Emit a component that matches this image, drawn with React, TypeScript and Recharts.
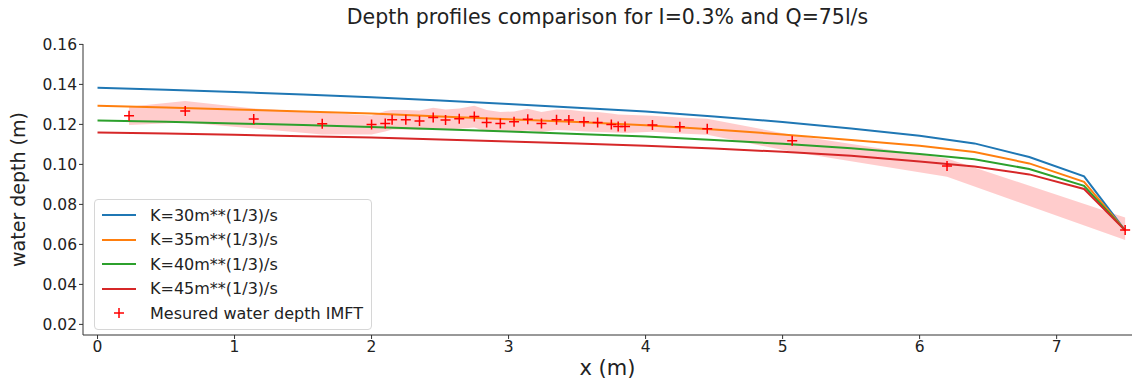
import { ComposedChart, Line, Area, Scatter, XAxis, YAxis, Legend, Label } from 'recharts';

// simulated profiles share one x grid
const profileX = [0, 0.5, 1, 1.5, 2, 2.5, 3, 3.5, 4, 4.5, 5, 5.5, 6, 6.4, 6.8, 7.2, 7.5];
const depthK30 = [0.1383, 0.1373, 0.1362, 0.135, 0.1336, 0.132, 0.1302, 0.1283, 0.1265, 0.124, 0.1212, 0.118, 0.1143, 0.1105, 0.1037, 0.094, 0.067];
const depthK35 = [0.1293, 0.1285, 0.1275, 0.1265, 0.1254, 0.124, 0.1226, 0.1212, 0.1196, 0.1175, 0.115, 0.1122, 0.1093, 0.1062, 0.1005, 0.0913, 0.067];
const depthK40 = [0.122, 0.1213, 0.1205, 0.1197, 0.1187, 0.1176, 0.1164, 0.1152, 0.1139, 0.1122, 0.1103, 0.1081, 0.1052, 0.1026, 0.0977, 0.0893, 0.067];
const depthK45 = [0.116, 0.1154, 0.1148, 0.1141, 0.1134, 0.1125, 0.1115, 0.1105, 0.1093, 0.1079, 0.1063, 0.1043, 0.1014, 0.099, 0.095, 0.0877, 0.067];

// IMFT measurements with their spread
const measuredX = [0.23, 0.64, 1.14, 1.64, 2.0, 2.1, 2.15, 2.25, 2.35, 2.45, 2.54, 2.64, 2.75, 2.84, 2.94, 3.04, 3.14, 3.24, 3.35, 3.44, 3.55, 3.65, 3.75, 3.8, 3.85, 4.05, 4.25, 4.45, 5.07, 6.2, 7.5];
const measuredDepth = [0.1243, 0.1267, 0.1227, 0.1203, 0.12, 0.1205, 0.1223, 0.1223, 0.1217, 0.1235, 0.1222, 0.1228, 0.124, 0.121, 0.1205, 0.1213, 0.1226, 0.1205, 0.1223, 0.1222, 0.1213, 0.121, 0.12, 0.119, 0.119, 0.1197, 0.1188, 0.1178, 0.1118, 0.0992, 0.0672];
const bandHigh = [0.1288, 0.1317, 0.128, 0.126, 0.1245, 0.1267, 0.1272, 0.1272, 0.127, 0.1283, 0.1275, 0.128, 0.1293, 0.1272, 0.1262, 0.1265, 0.1278, 0.1262, 0.1275, 0.1273, 0.1265, 0.1262, 0.1255, 0.125, 0.1248, 0.1243, 0.1235, 0.1228, 0.1147, 0.103, 0.0735];
const bandLow = [0.1197, 0.121, 0.118, 0.115, 0.115, 0.1165, 0.1175, 0.1175, 0.1172, 0.118, 0.1175, 0.1178, 0.1185, 0.1165, 0.1162, 0.1165, 0.117, 0.1162, 0.1172, 0.117, 0.1165, 0.1162, 0.116, 0.1158, 0.1157, 0.1163, 0.1155, 0.1148, 0.1063, 0.0938, 0.0622];

const xTicks = [0, 1, 2, 3, 4, 5, 6, 7];
const yTicks = [0.02, 0.04, 0.06, 0.08, 0.1, 0.12, 0.14, 0.16];

const series = [
  { key: 'k30', name: 'K=30m**(1/3)/s', color: '#1f77b4', values: depthK30 },
  { key: 'k35', name: 'K=35m**(1/3)/s', color: '#ff7f0e', values: depthK35 },
  { key: 'k40', name: 'K=40m**(1/3)/s', color: '#2ca02c', values: depthK40 },
  { key: 'k45', name: 'K=45m**(1/3)/s', color: '#d62728', values: depthK45 },
];
const measuredName = 'Mesured water depth IMFT';

const font = '"DejaVu Sans", sans-serif';

// merge everything onto one sorted x column
const rowsByX = new Map<number, any>();
const rowAt = (x: number) => {
  if (!rowsByX.has(x)) rowsByX.set(x, { x });
  return rowsByX.get(x);
};
series.forEach((s) => profileX.forEach((x, i) => { rowAt(x)[s.key] = s.values[i]; }));
measuredX.forEach((x, i) => { rowAt(x).band = [bandLow[i], bandHigh[i]]; });
const chartData = Array.from(rowsByX.values()).sort((a, b) => a.x - b.x);
const measured = measuredX.map((x, i) => ({ x, depth: measuredDepth[i] }));

const Plus = (props: any) => {
  const { cx, cy } = props;
  if (cx == null || cy == null) return null;
  return (
    <path d={`M${cx - 5},${cy}h10M${cx},${cy - 5}v10`} stroke="#ff0000" strokeWidth={1.5} fill="none" />
  );
};

const LegendBox = () => (
  <div style={{ border: '1px solid #d6d6d6', borderRadius: 4, background: 'rgba(255,255,255,0.8)', padding: '3px 8px 3px 5px', fontFamily: font, fontSize: 16, color: '#222' }}>
    {series.map((s) => (
      <div key={s.key} style={{ display: 'flex', alignItems: 'center', height: 24.5 }}>
        <svg width={40} height={10} style={{ marginRight: 10 }}>
          <line x1={2} x2={36} y1={5} y2={5} stroke={s.color} strokeWidth={2} />
        </svg>
        <span>{s.name}</span>
      </div>
    ))}
    <div style={{ display: 'flex', alignItems: 'center', height: 24.5 }}>
      <svg width={40} height={12} style={{ marginRight: 10 }}>
        <path d="M14,6h10M19,1v10" stroke="#ff0000" strokeWidth={1.5} />
      </svg>
      <span>{measuredName}</span>
    </div>
  </div>
);

export default function App() {
  return (
    <div style={{ position: 'absolute', left: 0, top: 0, width: 1132, height: 381, background: '#fff' }}>
      <div style={{ position: 'absolute', left: 83, width: 1049, top: 5, textAlign: 'center', fontFamily: font, fontSize: 20.5, color: '#222' }}>
        Depth profiles comparison for I=0.3% and Q=75l/s
      </div>
      <ComposedChart width={1132} height={381} data={chartData} margin={{ top: 44, right: 0, bottom: 0, left: 0 }}>
        <XAxis
          type="number"
          dataKey="x"
          domain={[-0.106, 7.55]}
          ticks={xTicks}
          allowDataOverflow
          height={46}
          axisLine={{ stroke: '#333' }}
          tickLine={{ stroke: '#333' }}
          tickSize={4}
          tick={{ fontSize: 15.5, fill: '#222', fontFamily: font }}
        >
          <Label value="x (m)" position="insideBottom" offset={6} style={{ fontSize: 21, fill: '#222', fontFamily: font }} />
        </XAxis>
        <XAxis xAxisId="top" type="number" dataKey="x" orientation="top" domain={[-0.106, 7.55]} allowDataOverflow height={0} tick={false} tickLine={false} axisLine={{ stroke: '#333' }} />
        <YAxis
          type="number"
          domain={[0.0147, 0.1602]}
          ticks={yTicks}
          allowDataOverflow
          width={83}
          axisLine={{ stroke: '#333' }}
          tickLine={{ stroke: '#333' }}
          tickSize={4}
          tickFormatter={(v: number) => v.toFixed(2)}
          tick={{ fontSize: 15.5, fill: '#222', fontFamily: font }}
        >
          <Label value="water depth (m)" angle={-90} position="insideLeft" offset={18} style={{ fontSize: 19, fill: '#222', fontFamily: font, textAnchor: 'middle' }} />
        </YAxis>
        <Area type="linear" dataKey="band" stroke="none" fill="#ff0000" fillOpacity={0.2} connectNulls isAnimationActive={false} legendType="none" />
        {series.map((s) => (
          <Line key={s.key} type="linear" dataKey={s.key} name={s.name} stroke={s.color} strokeWidth={2} dot={false} connectNulls isAnimationActive={false} />
        ))}
        <Scatter data={measured} dataKey="depth" name={measuredName} shape={Plus} isAnimationActive={false} />
        <Legend layout="vertical" align="center" verticalAlign="middle" wrapperStyle={{ left: 94, top: 199, width: 'auto' }} content={() => <LegendBox />} />
      </ComposedChart>
    </div>
  );
}
